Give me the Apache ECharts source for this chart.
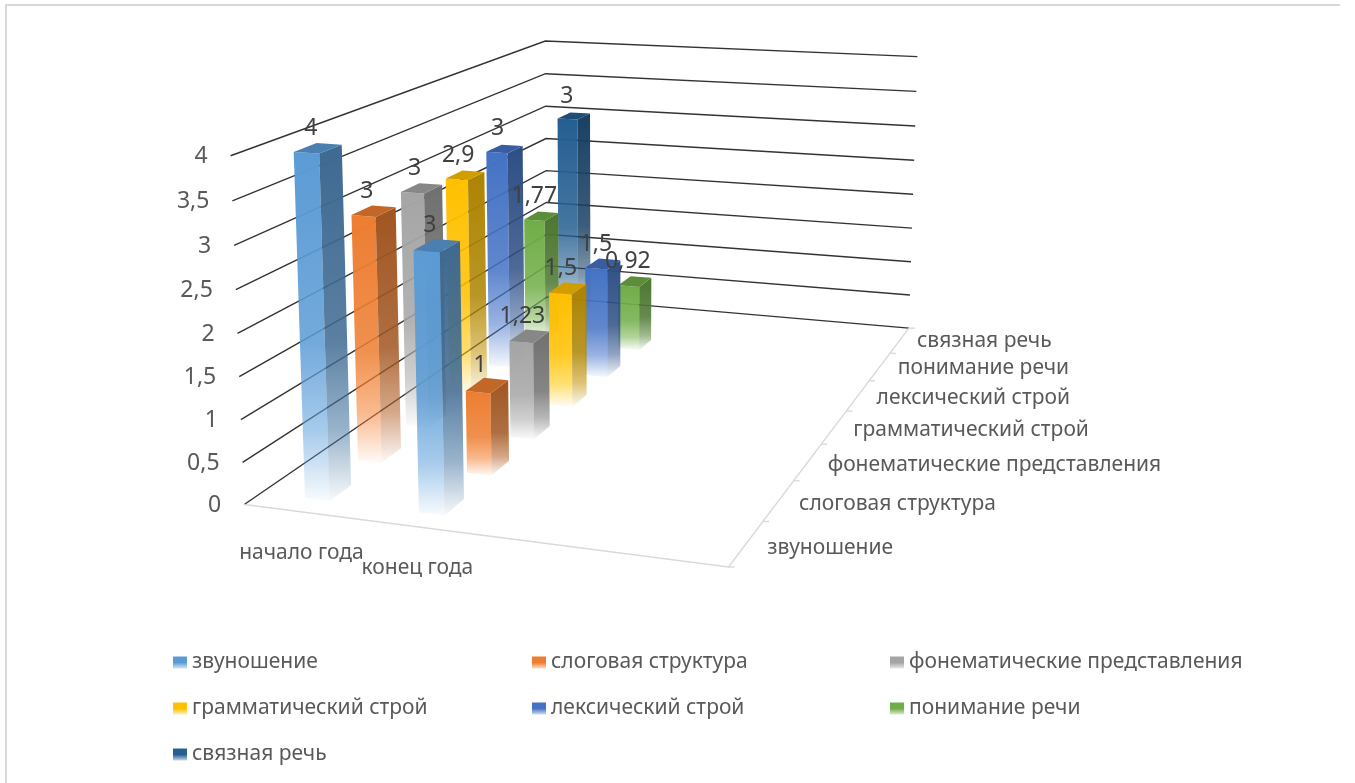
<!DOCTYPE html>
<html><head><meta charset="utf-8">
<style>html,body{margin:0;padding:0;background:#fff}#c{width:1355px;height:783px;filter:blur(0.5px)}</style>
<script src="https://cdn.jsdelivr.net/npm/echarts@6/dist/echarts.min.js"></script>
</head><body><div id="c"></div>
<script>
const years = ['начало года', 'конец года', '', ''];
const seriesNames = ['звуношение','слоговая структура','фонематические представления','грамматический строй','лексический строй','понимание речи','связная речь'];
const startOfYear = [4, 3, 3, 2.9, 3, 1.77, 3];
const endOfYear = [3, 1, 1.23, 1.5, 1.5, 0.92, null];
const valueTicks = [0, 0.5, 1, 1.5, 2, 2.5, 3, 3.5, 4];
const colors = ['#5B9BD5','#ED7D31','#A5A5A5','#FFC000','#4472C4','#70AD47','#255E91'];

const FONT = 'Noto Sans', TXT = '#595959', LABEL_TXT = '#404040';
const barFracU = 0.22, barDepth = 0.4;

// Camera: 3x4 projective matrix fitted from where the box's corners sit on the page.
const calib = [
 [0,0,0,245,503],[1,0,0,727,568],[1,1,0,910,326],[0,1,0,546,299],
 [0,0,1,230,155],[0,1,1,546,40],[1,1,1,917,58],
 [0,0,.625,236,290],[0,0,.25,241,420],
 [1,1/7,0,763,521],[1,2/7,0,795,482],[1,3/7,0,823,445],[1,4/7,0,845,411],[1,5/7,0,868,380],[1,6/7,0,890,353]
];
function fit(pts){
  const n=11, A=Array.from({length:n},()=>new Array(n+1).fill(0));
  const add=(r,b)=>{for(let i=0;i<n;i++){for(let j=0;j<n;j++)A[i][j]+=r[i]*r[j];A[i][n]+=r[i]*b;}};
  pts.forEach(([u,v,h,x,y])=>{
    add([u,v,h,1,0,0,0,0,-x*u,-x*v,-x*h],x);
    add([0,0,0,0,u,v,h,1,-y*u,-y*v,-y*h],y);
  });
  for(let i=0;i<n;i++){
    let p=i;for(let k=i+1;k<n;k++)if(Math.abs(A[k][i])>Math.abs(A[p][i]))p=k;
    [A[i],A[p]]=[A[p],A[i]];
    for(let k=0;k<n;k++){if(k===i)continue;const f=A[k][i]/A[i][i];for(let j=i;j<=n;j++)A[k][j]-=f*A[i][j];}
  }
  return A.map((r,i)=>r[n]/r[i]);
}
const M = fit(calib);
function proj(u,v,h){
  const w=M[8]*u+M[9]*v+M[10]*h+1;
  return [(M[0]*u+M[1]*v+M[2]*h+M[3])/w,(M[4]*u+M[5]*v+M[6]*h+M[7])/w];
}
function uh(params,api,cat,val){
  const c=params.coordSys, p=api.coord([cat,val]);
  return [(p[0]-c.x)/c.width,(c.y+c.height-p[1])/c.height];
}
function rgba(hex,a,k){
  k=k===undefined?1:k;
  const n=parseInt(hex.slice(1),16);
  return `rgba(${Math.round((n>>16)*k)},${Math.round(((n>>8)&255)*k)},${Math.round((n&255)*k)},${a})`;
}
function fade(hex,k,endK){
  return new echarts.graphic.LinearGradient(0,0,0,1,[
    {offset:0,color:rgba(hex,1,k)},
    {offset:.55,color:rgba(hex,.85,k)},
    {offset:.8,color:rgba(hex,.55,endK)},
    {offset:1,color:rgba(hex,.04,endK)}
  ]);
}
function poly(points,fill){
  return {type:'polygon',shape:{points},style:{fill,lineWidth:0}};
}
function barItem(colorIndex){
  return function(params,api){
    const cat=api.value(0), val=api.value(1), row=api.value(2);
    const [uc,h]=uh(params,api,cat,val);
    const du=api.size([1,0])[0]/params.coordSys.width*barFracU, dv=barDepth/7;
    const vc=(row+.5)/7, u0=uc-du/2,u1=uc+du/2,v0=vc-dv/2,v1=vc+dv/2;
    const col=colors[colorIndex];
    return {type:'group',children:[
      poly([proj(u0,v0,h),proj(u1,v0,h),proj(u1,v0,0),proj(u0,v0,0)],fade(col,1,1.03)),
      poly([proj(u1,v0,h),proj(u1,v1,h),proj(u1,v1,0),proj(u1,v0,0)],fade(col,.68,.75)),
      poly([proj(u0,v0,h),proj(u0,v1,h),proj(u1,v1,h),proj(u1,v0,h)],rgba(col,1,.82))
    ]};
  };
}
function textEl(p,text,align,size,color){
  return {type:'text',x:p[0],y:p[1],style:{text,fill:color||TXT,fontFamily:FONT,fontSize:size,align,verticalAlign:'middle'}};
}
const barSeries = seriesNames.map((name,i)=>{
  const data=[];
  if(startOfYear[i]!=null)data.push([0,startOfYear[i],i]);
  if(endOfYear[i]!=null)data.push([1,endOfYear[i],i]);
  return {type:'custom',name,z:20-i,data,encode:{x:0,y:1},renderItem:barItem(i),silent:true};
});
const wallSeries={type:'custom',name:'walls',z:1,silent:true,encode:{y:0},
  data:valueTicks.map(t=>[t]),
  renderItem(params,api){
    const t=api.value(0), [,h]=uh(params,api,0,t);
    const a=proj(0,0,h),b=proj(0,1,h),c=proj(1,1,h);
    return {type:'group',children:[
      {type:'polyline',shape:{points:[a,b,c]},style:{fill:null,stroke:'#333333',lineWidth:1.4}},
      textEl([a[0]-23,a[1]+1],String(t).replace('.',','),'right',23)
    ]};
  }};
const floorSeries={type:'custom',name:'floor',z:1,silent:true,data:[[0]],
  renderItem(){
    const kids=[{type:'polyline',shape:{points:[proj(0,0,0),proj(1,0,0),proj(1,1,0)]},style:{fill:null,stroke:'#d9d9d9',lineWidth:1.4}}];
    for(let i=0;i<=7;i++){const p=proj(1,i/7,0);kids.push({type:'line',shape:{x1:p[0],y1:p[1],x2:p[0]+6,y2:p[1]},style:{stroke:'#d9d9d9',lineWidth:1.4}});}
    return {type:'group',children:kids};
  }};
const depthLabelSeries={type:'custom',name:'depthLabels',z:1,silent:true,data:seriesNames.map((n,i)=>[i]),
  renderItem(params,api){
    const i=api.value(0),p=proj(1,(i+.5)/7,0);
    return textEl([p[0]+21-i*.6,p[1]+1+(6-i)*.5],seriesNames[i],'left',21);
  }};
const yearLabelSeries={type:'custom',name:'yearLabels',z:1,silent:true,encode:{x:0},data:[[0],[1]],
  renderItem(params,api){
    const i=api.value(0),[u]=uh(params,api,i,0),p=proj(u,0,0);
    return textEl([p[0]+1,p[1]+41],years[i],'center',21);
  }};
const labelData=[];
seriesNames.forEach((n,i)=>{
  if(startOfYear[i]!=null)labelData.push([0,startOfYear[i],i]);
  if(endOfYear[i]!=null)labelData.push([1,endOfYear[i],i]);
});
const dataLabelSeries={type:'custom',name:'dataLabels',z:40,silent:true,encode:{x:0,y:1},data:labelData,
  renderItem(params,api){
    const [u,h]=uh(params,api,api.value(0),api.value(1));
    const p=proj(u,(api.value(2)+.5)/7,h);
    return textEl([p[0]-7,p[1]-20],String(api.value(1)).replace('.',','),'center',23,LABEL_TXT);
  }};
function legendOf(left,idx){
  return {show:true,orient:'vertical',left,top:652,padding:0,itemWidth:14,itemHeight:12,itemGap:25,itemStyle:{borderWidth:0},selectedMode:false,
    textStyle:{color:TXT,fontFamily:FONT,fontSize:21,lineHeight:20},
    data:idx.map(i=>({name:seriesNames[i],icon:'rect',itemStyle:{color:new echarts.graphic.LinearGradient(0,0,0,1,[{offset:0,color:colors[i]},{offset:.5,color:colors[i]},{offset:1,color:rgba(colors[i],.25)}])}}))};
}
const chart=echarts.init(document.getElementById('c'),null,{renderer:'canvas'});
chart.setOption({
  animation:false,backgroundColor:'#fff',
  grid:{left:0,right:0,top:0,bottom:0,show:false},
  xAxis:{type:'category',data:years,show:false},
  yAxis:{type:'value',min:0,max:4,interval:.5,show:false},
  legend:[legendOf(173,[0,3,6]),legendOf(532,[1,4]),legendOf(890,[2,5])],
  graphic:[
    {type:'rect',shape:{x:5,y:4,width:1335,height:2},style:{fill:'#d9d9d9'},silent:true},
    {type:'rect',shape:{x:5,y:4,width:2,height:779},style:{fill:'#d9d9d9'},silent:true}
  ],
  series:[wallSeries,floorSeries,depthLabelSeries,yearLabelSeries].concat(barSeries,[dataLabelSeries])
});
</script></body></html>
